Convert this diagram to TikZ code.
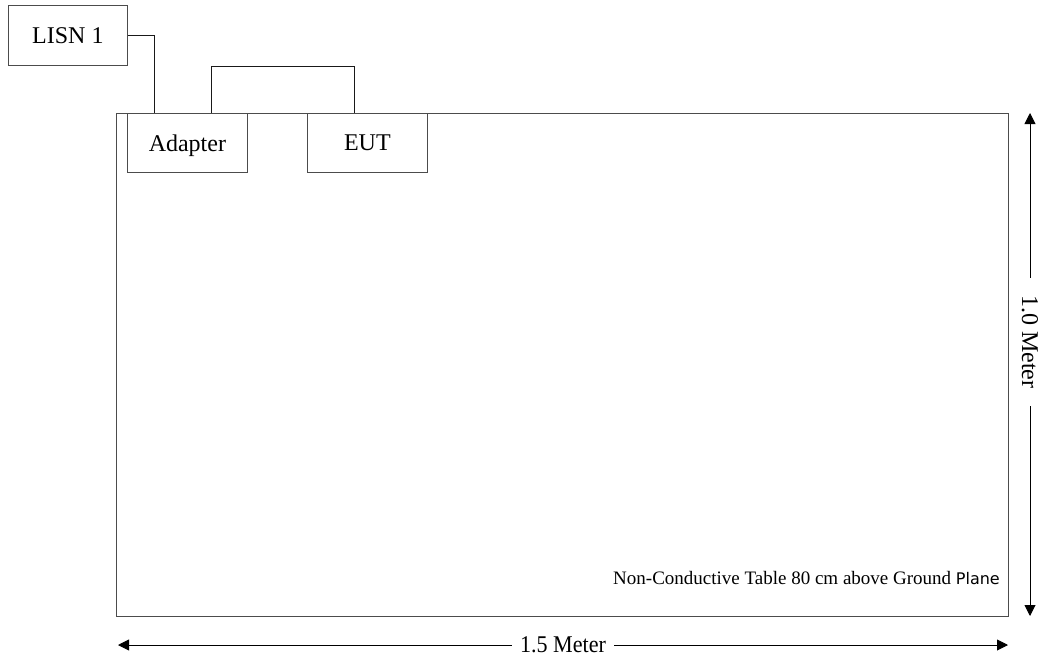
\documentclass[tikz,border=0pt]{standalone}
\usepackage{fontspec}
\setmainfont{Liberation Serif}
\newfontfamily\plainsans{DejaVu Sans}
\usetikzlibrary{arrows.meta,calc}
\begin{document}
\begin{tikzpicture}[x=1pt,y=-1pt,
  box/.style={draw=black!70,line width=0.8pt,inner sep=0pt,anchor=north west,text depth=0pt,font=\fontsize{24}{28}\selectfont},
  wire/.style={draw=black!90,line width=1.1pt},
  dimline/.style={draw=black,line width=0.9pt,{Triangle[length=11pt,width=11pt]}-{Triangle[length=11pt,width=11pt]}},
  dimlabel/.style={fill=white,inner ysep=1pt,font=\fontsize{24}{28}\selectfont}]
\useasboundingbox (0,0) rectangle (1058,664);
\node[box,minimum width=892pt,minimum height=503pt] (table) at (116,113) {};
\node[box,minimum width=119pt,minimum height=60pt] (lisn) at (8,5) {LISN 1};
\node[box,minimum width=120pt,minimum height=59pt] (adapter) at (127,113) {Adapter};
\node[box,minimum width=120pt,minimum height=59pt] (eut) at (307,113) {EUT};
\draw[wire] (lisn.east) -| ($(adapter.north west)!0.225!(adapter.north east)$);
\draw[wire,line width=0.9pt] ($(adapter.north west)!0.7!(adapter.north east)$) -- ++(0,-47) -| ($(eut.north west)!0.392!(eut.north east)$);
\coordinate (vtop) at (1030,113);
\coordinate (vbot) at (1030,616);
\draw[dimline] (vtop) -- node[dimlabel,pos=0.455,rotate=-90,inner xsep=17pt] {1.0 Meter} (vbot);
\coordinate (hl) at (118,645);
\coordinate (hr) at (1008,645);
\draw[dimline] (hl) -- node[dimlabel,inner xsep=8pt] {\scalebox{0.92}[1]{1.5 Meter}} (hr);
\node[anchor=east,inner sep=0pt,font=\fontsize{19}{22}\selectfont] (note) at (1000,578) {Non-Conductive Table 80 cm above Ground {\plainsans\fontsize{16}{20}\selectfont Plane}};
\end{tikzpicture}
\end{document}
